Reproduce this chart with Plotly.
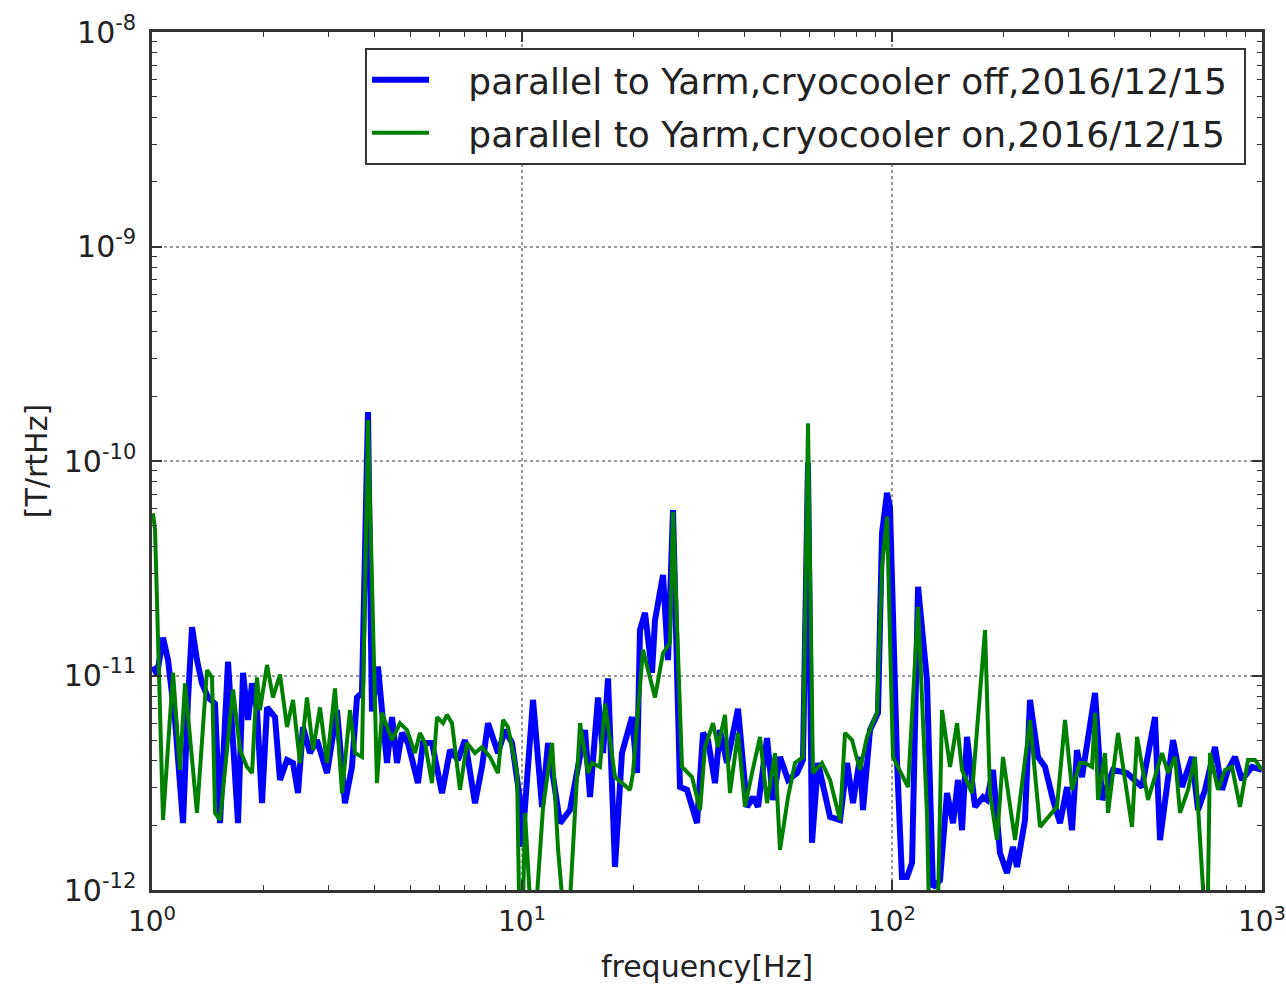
import plotly.graph_objects as go

# ---- data ----
freq_off = [1.006, 1.032, 1.071, 1.105, 1.154, 1.213, 1.251, 1.283, 1.323, 1.365, 1.417, 1.480, 1.527, 1.605,
            1.708, 1.762, 1.818, 1.864, 1.922, 1.983, 2.046, 2.150, 2.218, 2.317, 2.405, 2.481, 2.559, 2.673,
            2.792, 2.972, 3.162, 3.323, 3.471, 3.581, 3.694, 3.835, 3.931, 4.081, 4.184, 4.316, 4.453, 4.594,
            4.739, 4.919, 5.233, 5.400, 5.712, 6.078, 6.389, 6.714, 7.013, 7.464, 7.797, 8.094, 8.612, 8.996,
            9.397, 9.876, 10.0, 10.71, 11.33, 11.76, 12.67, 13.48, 14.17, 14.80, 15.27, 16.05, 16.56, 17.08,
            17.84, 18.63, 19.83, 20.46, 20.84, 21.50, 22.46, 22.88, 24.05, 24.81, 25.59, 26.73, 27.92, 29.72,
            30.85, 31.82, 33.24, 34.28, 35.81, 38.35, 40.56, 42.10, 43.44, 45.95, 47.69, 49.81, 52.36, 55.37,
            57.47, 59.29, 60.78, 63.10, 68.01, 72.36, 75.58, 78.45, 81.95, 83.50, 87.21, 91.67, 93.97, 96.94,
            98.76, 103.2, 106.4, 109.8, 113.3, 117.6, 124.3, 129.0, 134.8, 140.8, 146.2, 150.8, 154.6, 159.5,
            167.6, 176.2, 180.6, 187.5, 195.8, 204.5, 212.3, 217.7, 228.8, 236.0, 248.1, 259.1, 272.4, 284.5,
            297.2, 306.6, 316.2, 326.2, 353.8, 369.6, 395.7, 431.6, 474.0, 513.8, 530.1, 574.8, 607.8, 646.9,
            671.5, 701.4, 746.5, 779.7, 809.3, 845.3, 882.9, 939.7, 1000.0]
asd_off = [1.10e-11, 1.01e-11, 1.50e-11, 1.18e-11, 6.2e-12, 2.05e-12, 7.7e-12, 1.68e-11, 1.18e-11, 9.2e-12,
           7.9e-12, 7.4e-12, 2.05e-12, 1.16e-11, 2.05e-12, 1.03e-11, 6.2e-12, 9.2e-12, 6.9e-12, 2.54e-12,
           7.1e-12, 6.4e-12, 3.26e-12, 4.04e-12, 3.91e-12, 2.83e-12, 5.75e-12, 4.35e-12, 5.0e-12, 3.51e-12,
           6.9e-12, 2.54e-12, 3.75e-12, 7.9e-12, 8.3e-12, 1.69e-10, 6.8e-12, 1.10e-11, 6.9e-12, 3.91e-12,
           6.4e-12, 3.91e-12, 5.4e-12, 4.85e-12, 3.15e-12, 4.85e-12, 4.85e-12, 2.83e-12, 4.49e-12, 4.04e-12,
           5.0e-12, 2.54e-12, 3.75e-12, 6.0e-12, 4.35e-12, 5.57e-12, 4.85e-12, 2.63e-12, 1.59e-12, 7.7e-12,
           2.44e-12, 4.85e-12, 2.05e-12, 2.36e-12, 3.75e-12, 5.57e-12, 2.71e-12, 7.9e-12, 4.35e-12, 9.7e-12,
           1.28e-12, 4.35e-12, 6.4e-12, 3.51e-12, 1.63e-11, 1.96e-11, 1.03e-11, 1.81e-11, 2.94e-11, 1.18e-11,
           5.9e-11, 3.02e-12, 2.93e-12, 2.05e-12, 5.4e-12, 5.0e-12, 3.15e-12, 5.57e-12, 3.91e-12, 7.0e-12,
           2.44e-12, 2.71e-12, 2.44e-12, 5.11e-12, 2.63e-12, 4.17e-12, 3.26e-12, 3.51e-12, 4.04e-12, 9.8e-11,
           1.66e-12, 3.91e-12, 2.19e-12, 2.12e-12, 3.91e-12, 2.54e-12, 4.17e-12, 2.36e-12, 5.57e-12, 6.7e-12,
           4.6e-11, 7.1e-11, 6.1e-11, 3.91e-12, 1.15e-12, 1.15e-12, 1.34e-12, 2.59e-11, 9.5e-12, 1.03e-12,
           1.11e-12, 2.83e-12, 2.05e-12, 3.26e-12, 1.90e-12, 5.17e-12, 2.44e-12, 2.71e-12, 2.63e-12, 3.63e-12,
           1.49e-12, 1.20e-12, 1.59e-12, 1.28e-12, 2.12e-12, 7.7e-12, 4.17e-12, 3.75e-12, 2.63e-12, 2.05e-12,
           3.02e-12, 1.90e-12, 4.49e-12, 3.36e-12, 8.3e-12, 2.63e-12, 3.63e-12, 3.51e-12, 3.02e-12, 6.4e-12,
           1.71e-12, 5.0e-12, 3.02e-12, 4.17e-12, 2.36e-12, 2.93e-12, 4.64e-12, 2.93e-12, 3.63e-12, 4.17e-12,
           3.26e-12, 3.75e-12, 3.63e-12]

freq_on = [1.006, 1.019, 1.071, 1.140, 1.190, 1.228, 1.323, 1.408, 1.453, 1.480, 1.527, 1.656, 1.730, 1.806,
           1.864, 1.922, 1.958, 2.046, 2.123, 2.218, 2.317, 2.405, 2.512, 2.624, 2.724, 2.845, 2.972, 3.123,
           3.262, 3.428, 3.537, 3.694, 3.835, 4.055, 4.184, 4.453, 4.680, 4.889, 5.136, 5.300, 5.467, 5.712,
           5.892, 6.116, 6.270, 6.469, 6.798, 7.102, 7.464, 7.797, 8.195, 8.612, 8.884, 9.166, 9.694, 9.876,
           10.0, 10.19, 10.71, 11.40, 12.06, 12.52, 13.23, 14.35, 15.08, 15.46, 16.25, 16.76, 17.84, 19.59,
           19.95, 21.23, 22.88, 24.05, 25.12, 25.59, 27.07, 28.81, 30.28, 31.23, 32.83, 33.86, 35.37, 36.49,
           38.35, 40.06, 41.84, 43.98, 45.95, 48.29, 49.81, 52.36, 54.68, 57.47, 59.29, 61.16, 64.69, 68.01,
           72.36, 74.65, 77.97, 81.95, 85.60, 91.10, 93.97, 96.94, 100.6, 110.5, 117.6, 124.3, 126.6, 132.3,
           136.5, 143.5, 149.9, 154.6, 164.5, 178.4, 184.0, 192.2, 199.5, 215.0, 236.0, 251.2, 279.2, 293.5,
           306.6, 322.2, 332.4, 347.2, 353.8, 360.5, 376.5, 383.6, 408.2, 445.3, 459.5, 492.0, 536.8, 557.2,
           582.1, 600.3, 631.0, 659.1, 710.3, 723.6, 760.5, 794.3, 829.7, 871.9, 916.7, 957.4, 1000.0]
asd_on = [5.7e-11, 4.8e-11, 2.12e-12, 1.03e-11, 3.63e-12, 9.2e-12, 2.29e-12, 1.06e-11, 9.8e-12, 2.29e-12,
          2.12e-12, 8.6e-12, 4.49e-12, 3.75e-12, 3.51e-12, 9.8e-12, 6.9e-12, 1.12e-11, 7.9e-12, 1.01e-11,
          5.75e-12, 7.7e-12, 3.91e-12, 7.9e-12, 4.49e-12, 7.1e-12, 3.91e-12, 8.7e-12, 2.83e-12, 6.9e-12,
          4.35e-12, 4.17e-12, 1.55e-10, 3.15e-12, 6.7e-12, 5.0e-12, 6.0e-12, 5.57e-12, 4.35e-12, 5.4e-12,
          4.85e-12, 3.15e-12, 6.4e-12, 6.0e-12, 6.55e-12, 6.0e-12, 2.93e-12, 4.85e-12, 4.35e-12, 4.64e-12,
          4.17e-12, 3.51e-12, 6.2e-12, 5.75e-12, 3.51e-12, 5e-13, 5e-13, 2.29e-12, 5e-13, 2.44e-12,
          4.85e-12, 1.54e-12, 5e-13, 6.0e-12, 3.51e-12, 3.91e-12, 3.75e-12, 7.4e-12, 3.36e-12, 2.93e-12,
          3.51e-12, 1.32e-11, 7.9e-12, 1.27e-11, 1.42e-11, 5.8e-11, 3.75e-12, 3.36e-12, 2.36e-12, 4.64e-12,
          6.0e-12, 4.64e-12, 6.55e-12, 2.83e-12, 5.4e-12, 2.44e-12, 3.51e-12, 5.17e-12, 2.54e-12, 4.35e-12,
          1.54e-12, 2.71e-12, 3.91e-12, 4.17e-12, 1.50e-10, 3.51e-12, 3.91e-12, 3.26e-12, 2.12e-12, 5.4e-12,
          5.0e-12, 3.63e-12, 5.17e-12, 6.7e-12, 3.2e-11, 5.5e-11, 4.17e-12, 3.02e-12, 2.09e-11, 2.29e-12,
          5e-13, 5e-13, 6.9e-12, 3.75e-12, 6.0e-12, 3.63e-12, 2.83e-12, 1.63e-11, 2.83e-12, 1.71e-12,
          4.17e-12, 1.71e-12, 6.2e-12, 1.97e-12, 2.44e-12, 6.2e-12, 2.93e-12, 3.91e-12, 3.91e-12, 3.75e-12,
          6.7e-12, 2.63e-12, 4.35e-12, 2.29e-12, 5.4e-12, 1.97e-12, 5.17e-12, 2.63e-12, 4.35e-12, 3.51e-12,
          4.17e-12, 2.29e-12, 2.93e-12, 4.17e-12, 5e-13, 4.35e-12, 2.93e-12, 3.63e-12, 3.75e-12, 2.44e-12,
          4.04e-12, 4.04e-12, 3.63e-12]

label_off = "parallel to Yarm,cryocooler off,2016/12/15"
label_on = "parallel to Yarm,cryocooler on,2016/12/15"

x_ticks = [1, 10, 100, 1000]
x_tick_text = ["10<sup>0</sup>", "10<sup>1</sup>", "10<sup>2</sup>", "10<sup>3</sup>"]
y_ticks = [1e-12, 1e-11, 1e-10, 1e-9, 1e-8]
y_tick_text = ["10<sup>-12</sup>", "10<sup>-11</sup>", "10<sup>-10</sup>", "10<sup>-9</sup>", "10<sup>-8</sup>"]
minor_mult = [2, 3, 4, 5, 6, 7, 8, 9]
x_minor = [m * d for d in [1, 10, 100] for m in minor_mult]
y_minor = [m * d for d in [1e-12, 1e-11, 1e-10, 1e-9] for m in minor_mult]

FONT = "DejaVu Sans"
AX = "#333333"
TXT = "#222222"
PAD = "\u00a0\u00a0\u00a0"
TAIL = "\u00a0"

fig = go.Figure()
fig.add_trace(go.Scatter(x=freq_off, y=asd_off, mode="lines", name=PAD + label_off + TAIL, legendgroup="a",
                         line=dict(color="#0000ff", width=6)))
fig.add_trace(go.Scatter(x=freq_on, y=asd_on, mode="lines", name=PAD + label_on + TAIL, legendgroup="b",
                         line=dict(color="#008000", width=4)))


def axis_common(minor_vals, tick_size):
    return dict(
        type="log", showline=True, linecolor=AX, linewidth=2.5, mirror="ticks",
        ticks="inside", ticklen=10, tickwidth=1.5, tickcolor=AX,
        showgrid=True, gridcolor="#9a9a9a", griddash="dot", gridwidth=1.5,
        zeroline=False, tickfont=dict(family=FONT, size=tick_size, color=TXT),
        ticklabeloverflow="allow", automargin=False,
        minor=dict(tickmode="array", tickvals=minor_vals, ticks="inside", ticklen=5,
                   tickwidth=1.2, tickcolor=AX, showgrid=False),
    )


fig.update_xaxes(**axis_common(x_minor, 28), range=[0, 3], tickvals=x_ticks, ticktext=x_tick_text,
                 ticklabelstandoff=5,
                 title=dict(text="frequency[Hz]", font=dict(family=FONT, size=30, color=TXT), standoff=19))
fig.update_yaxes(**axis_common(y_minor, 30), range=[-12, -8], tickvals=y_ticks, ticktext=y_tick_text,
                 ticklabelstandoff=7,
                 title=dict(text="[T/rtHz]", font=dict(family=FONT, size=30, color=TXT), standoff=8))

fig.update_layout(
    width=1286, height=984,
    margin=dict(l=152, r=24, t=32, b=94),
    paper_bgcolor="white", plot_bgcolor="white",
    showlegend=True,
    legend=dict(x=0.9856, y=0.9814, xanchor="right", yanchor="top",
                bgcolor="white", bordercolor=AX, borderwidth=2,
                font=dict(family=FONT, size=36, color=TXT),
                itemwidth=57, tracegroupgap=3),
)

fig.write_html("out.html")
